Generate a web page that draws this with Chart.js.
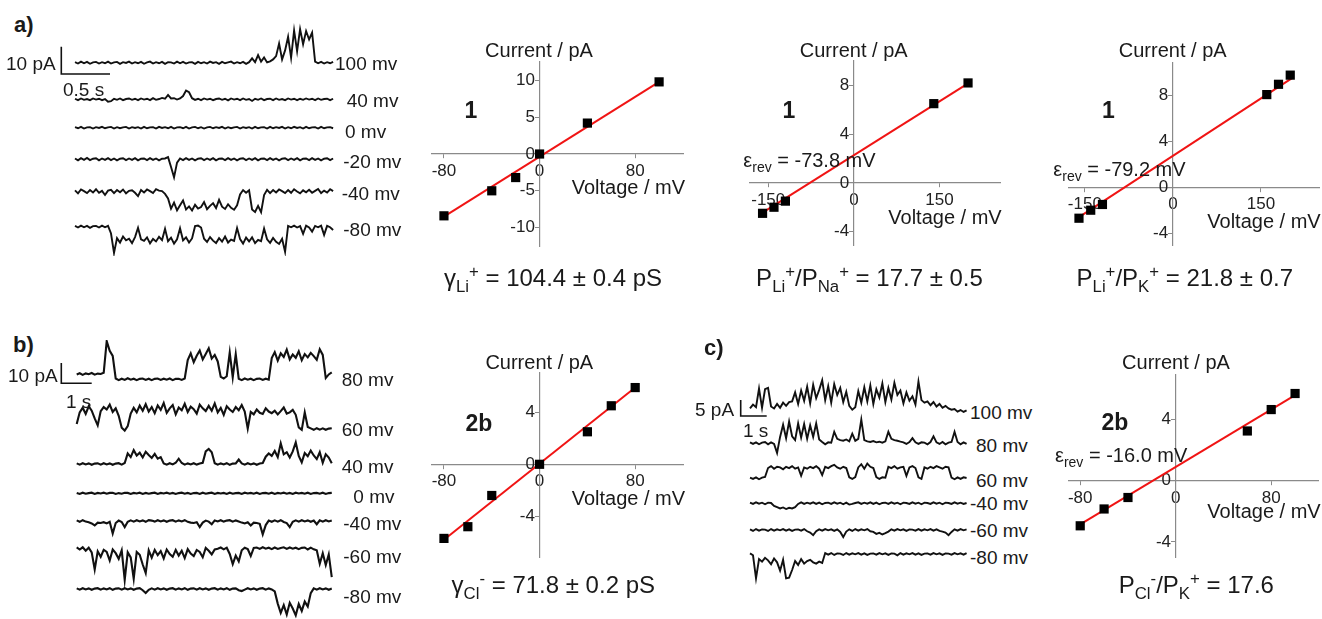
<!DOCTYPE html>
<html>
<head>
<meta charset="utf-8">
<script src="https://cdn.jsdelivr.net/npm/chart.js@4.4.1/dist/chart.umd.min.js"></script>
<style>
  body { margin: 0; background: #fff; }
  #fig { position: relative; width: 1322px; height: 619px; overflow: hidden;
         font-family: Arial, "Liberation Sans", sans-serif; color: #1a1a1a; }
  #fig canvas { position: absolute; }
  .t { position: absolute; white-space: nowrap; line-height: 1; }
  .t sub, .t sup { font-size: 0.7em; line-height: 0; }
</style>
</head>
<body>
<div id="fig"></div>
<script>
// ---------- panel a : single channel traces (pA relative to closed level) ----------
const voltsA = ['100 mv', '40 mv', '0 mv', '-20 mv', '-40 mv', '-80 mv'];
const traceA100 = [0.2,-0.3,0.4,-0.2,0.3,-0.4,0.1,0.3,-0.3,0.2,-0.2,0.4,-0.3,0.1,0.3,-0.4,0.2,-0.1,0.4,-0.3,
  0.2,-0.2,0.3,-0.4,0.1,0.4,-0.3,0.2,-0.2,0.3,-0.4,0.2,0.1,-0.3,0.4,-0.2,0.3,-0.3,0.1,0.2,
  -0.4,0.3,-0.2,0.2,-0.3,0.4,-0.1,0.2,-0.4,0.3,-0.2,0.1,0.4,-0.3,0.2,-0.2,0.3,-0.4,0.2,
  1.6,0.2,2.8,0.4,1.9,0.1,0.5,1.2,2.4,7.0,1.2,4.5,9.5,1.8,11.8,4.2,12.3,6.8,11.6,8.5,
  11.0,0.4,-0.2,0.3,-0.3,0.2,-0.2,0.3];
const traceA40 = [0.2,-0.3,0.3,-0.2,0.1,-0.3,0.3,-0.1,0.2,-0.3,0.1,-0.9,-0.7,0.2,-0.2,0.3,-0.3,0.1,0.3,-0.2,
  0.2,-0.3,0.3,-0.1,0.2,-0.3,0.4,-0.2,0.1,0.5,0.2,1.6,0.3,0.4,-0.1,0.3,1.2,3.2,2.6,0.4,
  -0.2,0.2,-0.3,0.3,-0.1,0.2,-0.3,0.1,0.3,-0.2,0.2,-0.4,0.3,-0.1,0.2,-0.3,0.3,-0.2,0.1,-0.6,
  0.2,-0.2,0.3,-0.3,0.1,0.2,-0.3,0.3,-0.2,0.1,-0.3,0.3,-0.1,0.2,-0.3,0.2,-0.2,0.3,-0.1,0.2,
  -0.3,0.3,-0.2,0.1,0.2,-0.3,0.2];
const traceA0 = [0.2,-0.2,0.3,-0.3,0.1,0.2,-0.3,0.2,-0.1,0.3,-0.2,0.1,0.3,-0.3,0.2,-0.2,0.1,0.3,-0.3,0.2,
  -0.1,0.2,-0.3,0.3,-0.2,0.1,0.2,-0.3,0.3,-0.1,0.2,-0.2,0.3,-0.3,0.1,0.2,-0.2,0.3,-0.3,0.1,
  0.3,-0.2,0.2,-0.3,0.1,0.3,-0.2,0.2,-0.1,0.3,-0.3,0.2,-0.2,0.1,0.3,-0.3,0.2,-0.1,0.2,-0.3,
  0.3,-0.2,0.1,0.2,-0.3,0.3,-0.2,0.2,-0.1,0.3,-0.3,0.2,-0.2,0.3,-0.1,0.2,-0.3,0.3,-0.2,0.1,
  0.2,-0.3,0.3,-0.2,0.1,0.2,-0.2];
const traceAm20 = [0.3,-0.4,0.4,-0.2,0.5,-0.3,0.2,0.4,-0.4,0.3,-0.2,0.4,-0.3,0.3,-0.4,0.2,0.4,-0.3,0.3,-0.2,
  0.4,-0.4,0.2,0.3,-0.3,0.4,-0.2,0.3,-0.4,0.2,0.3,0.8,-2.8,-6.6,-1.2,0.3,-0.3,0.4,-0.2,0.3,
  -0.4,0.2,0.4,-0.3,0.3,-0.2,0.4,-0.4,0.2,0.3,-0.3,0.4,-0.2,0.3,-0.4,0.2,0.4,-0.3,0.3,-0.2,
  0.4,-0.4,0.2,0.3,-0.3,0.4,-0.2,0.3,-0.4,0.2,0.4,-0.3,0.3,-0.2,0.4,-0.4,0.2,0.3,-0.3,0.4,
  -0.2,0.3,-0.4,0.2,0.4,-0.3,0.3];
const traceAm40 = [0.5,-0.6,0.8,0.2,-0.5,0.6,-0.3,0.9,-0.4,0.3,-1.2,0.4,0.7,-0.5,0.6,-0.2,0.8,-0.6,0.3,0.5,
  -0.4,-1.6,0.6,-0.3,0.8,0.2,-0.5,0.9,0.4,0.2,-0.8,-2.5,-6.2,-4.0,-6.8,-5.0,-3.2,-6.5,-5.4,-6.9,
  -4.8,-6.2,-5.6,-3.8,-6.4,-5.2,-4.2,-6.0,-3.0,-5.5,-6.3,-4.6,-5.9,-6.6,-5.0,-1.0,0.6,-0.4,0.5,-6.5,
  -7.4,-5.2,-7.5,-1.2,0.7,-0.5,0.6,-0.3,0.8,0.2,-0.5,0.6,-0.4,0.9,0.1,-0.6,0.5,-0.2,0.7,-0.4,
  0.3,1.0,-0.5,0.4,-0.3,0.9,0.2];
const traceAm80 = [0.3,-0.3,0.4,-0.2,0.3,-0.4,0.2,0.3,-0.3,0.4,-0.2,0.3,-2.5,-9.6,-4.2,-5.8,-3.6,-5.0,-4.4,-6.0,
  -3.8,-0.4,-4.6,-5.2,-3.9,-6.1,-4.5,-5.4,-3.7,-4.9,-0.8,-5.3,-4.0,-6.2,-4.6,-0.6,-5.0,-3.9,-5.8,-4.3,
  0.2,0.4,-0.3,-4.4,-5.6,-3.8,-5.1,-6.0,-4.2,-5.5,-3.6,-5.8,-4.7,-5.2,-0.5,-4.5,-6.2,-4.0,-5.4,-3.9,
  -6.0,-4.8,-5.3,-0.7,-4.6,-5.9,-4.1,-5.5,-6.3,-4.4,-9.2,0.3,-0.2,0.4,-0.3,0.2,-2.6,0.4,-0.3,-1.8,
  0.3,-0.2,0.4,-3.0,0.3,-0.2,-1.2];

// ---------- panel b traces ----------
const voltsB = ['80 mv', '60 mv', '40 mv', '0 mv', '-40 mv', '-60 mv', '-80 mv'];
const traceB80 = [2.4,3.0,2.2,2.9,2.5,3.1,2.3,2.8,2.6,3.2, 18.8,14.0,11.5,
  0.4,-0.4,0.3,-0.3,0.5,-0.2,0.3,-0.4,0.2,0.4,-0.3,0.3,-0.4,0.2,0.4,-0.3,0.3,-0.2,0.4,-0.4,0.2,0.3,-0.3,0.4,
  9.5,12.8,8.4,11.6,14.2,9.8,12.5,15.3,10.2,12.0,8.8, 1.2,0.4,1.5,13.2,1.0,12.4,
  0.3,-0.4,0.4,-0.2,0.3,-0.4,0.2,0.4,-0.3,0.3,-0.2,
  10.5,13.4,9.2,12.8,11.0,14.6,9.8,12.2,10.6,13.8,9.4,12.4,10.8,13.0,11.4,9.6,14.8,12.0, 0.6,2.4,3.4];
const traceB60 = [2.5, 8.2,10.5,7.4,11.2,9.0,5.2,1.8,8.8,10.8,9.6,12.0,8.4,10.2,6.5, 0.6,-0.8,1.4,
  7.6,10.4,8.2,11.5,9.0,12.2,8.6,10.8,7.8,11.6,9.4,12.8,8.0,10.2,11.8,7.2,10.6,9.2,12.4,8.4,11.0,9.8,
  7.6,12.0,10.2,8.8,11.4,9.0,12.6,8.2,10.4,7.0,11.2,9.6,8.4,10.8,9.2,11.8,8.6, 0.2,
  8.4,7.2,9.6,8.0,7.4,10.2,8.6,7.8,9.0,7.2,8.8,10.6,7.6,8.2,9.4,7.0, 0.8,-0.4, 8.2,
  1.0,0.3,-0.4,0.4,-0.3,0.3,-0.4,0.2,0.4];
const traceB40 = [0.3,-0.3,0.4,-0.2,0.3,-0.4,0.2,0.3,-0.3,0.4,-0.2,0.3,-0.4,0.2,0.4,-0.3,0.5,
  5.2,3.4,6.8,4.2,5.6,3.2,6.0,4.4,3.0,5.0,2.6,3.4, 0.3,-0.3,0.4,-0.2,0.6, 2.6,0.5,
  -0.3,0.3,-0.2,0.4,-0.3,0.2,0.6, 6.2,7.4,5.8,
  0.4,-0.3,0.3,-0.2,0.4,-0.4,0.2,0.3,2.2,0.3,-0.3,0.4,-0.2,0.3,-0.4,0.2,0.5,
  3.6,5.2,4.0,6.4,3.4,10.2,4.8,5.8,3.2,6.2,10.6,4.0,0.8,5.4,3.8,6.6,4.2,2.4,5.8,0.6,4.8,3.2, 0.4];
const traceB0 = [0.2,-0.3,0.3,-0.2,0.1,0.3,-0.3,0.2,-0.1,0.3,-0.2,0.2,0.3,-0.3,0.1,-0.2,0.3,0.2,-0.3,0.2,
  -0.1,0.3,-0.3,0.2,-0.2,0.1,0.3,-0.3,0.2,-0.1,0.3,-0.2,0.2,-0.3,0.1,0.3,-0.2,0.2,-0.3,0.1,
  0.2,-0.3,0.3,-0.2,0.1,0.3,-0.3,0.2,-0.1,0.2,-0.3,0.3,-0.2,0.1,0.2,-0.3,0.3,-0.1,0.2,-0.2,
  0.3,-0.3,0.1,0.2,-0.2,0.3,-0.3,0.2,-0.1,0.3,-0.2,0.2,-0.3,0.3,-0.1,0.2,-0.2,0.3,-0.3,0.1,
  0.2,-0.2,0.3,-0.3,0.1,0.2];
const traceBm40 = [0.3,-0.4,0.4,-0.3,-0.6,-1.2,-2.2,-0.8,-1.0,-0.6,-1.2,-0.4,-6.2,-1.0,0.2,-0.5,-3.0,-0.4,0.3,-0.3,
  0.4,-0.2,0.3,-0.4,0.4,0.2,-0.3,0.4,-0.2,0.3,-0.4,0.2,0.4,-0.3,0.3,-0.2,0.4,-0.4,-0.8,-1.0,
  -0.6,-3.0,-0.8,0.2,-0.3,-1.6,0.3,-0.2,0.4,-0.3,0.2,0.4,-0.3,0.3,-0.2,-0.8,-1.2,-0.6,-2.2,-0.8,
  -1.0,-1.4,-6.6,-2.0,0.2,-0.4,0.3,-0.3,0.4,-0.5,-1.0,-3.0,-0.4,0.3,-0.3,0.4,-0.2,0.3,-0.4,0.2,
  -1.6,0.3,-0.3,0.4,-0.2,0.3];
const traceBm60 = [0.4,-0.6,0.5,-1.2,0.3,-2.0,-10.4,-1.5,-4.2,-0.8,-1.8,-6.0,-0.6,-2.4,-5.2,-1.0,-15.6,-2.0,-4.5,-15.0,
  -1.8,-3.2,-8.0,-12.2,-1.0,-4.6,-0.8,-3.4,-1.4,-5.0,-0.6,-2.8,-4.2,-0.8,-3.6,-1.2,-4.8,-0.4,-2.6,-3.8,
  -0.8,-1.8,-4.4,0.2,-1.2,-3.0,-0.6,-0.2,0.4,-0.5,0.3,-2.8,-7.8,-3.6,-6.4,-1.0,0.3,-0.4,-3.8,0.2,
  0.4,-0.3,0.5,-0.2,0.3,-0.4,0.4,-0.3,0.2,0.5,-0.3,0.4,-0.2,0.3,-0.4,0.2,0.4,-0.6,0.3,-0.5,
  -1.0,-7.6,-2.4,-8.2,-3.0,-14.2];
const traceBm80 = [0.3,-0.3,0.4,-0.2,0.3,-0.4,0.2,0.4,-0.3,0.3,-0.2,0.4,-0.4,0.2,0.3,-0.3,0.4,-0.2,0.3,-0.4,
  0.2,0.4,-0.6,-2.0,-0.4,0.3,-0.3,0.4,-0.2,0.3,-0.4,0.2,0.4,-0.3,0.3,-0.2,0.4,-0.4,0.2,0.3,
  -0.3,0.4,-0.2,0.3,-0.4,0.2,0.4,-0.3,0.3,-0.2,0.4,-0.4,0.2,0.3,-0.6,-1.0,-0.3,0.4,-0.2,0.3,
  -0.4,0.2,0.4,-0.3,0.3,-0.2,-1.2,-7.2,-11.8,-8.0,-12.6,-6.8,-9.6,-13.0,-7.4,-10.8,-6.2,-8.6,-2.0,0.3,
  -0.3,0.4,-0.2,0.3,-0.4,0.2];

// ---------- panel c traces ----------
const voltsC = ['100 mv', '80 mv', '60 mv', '-40 mv', '-60 mv', '-80 mv'];
const traceC100 = [0.8,2.0,1.2,7.0,1.0,6.8,7.2, 1.4,0.8,2.2,1.0,2.6,1.6,2.8,
  3.0,5.8,2.2,6.4,3.2,7.6,2.4,8.2,4.0,6.6,9.6,3.4,7.8,2.6,8.4,5.0,7.2,2.8,6.0,1.6, 0.4,1.2,
  6.2,2.6,7.4,3.0,8.0,2.2,6.8,4.2,8.6,2.8,7.2,3.6,8.8,5.0,6.4,2.4,5.8,3.2,4.6,2.0, 9.2,
  3.4,2.6,3.0,1.8,2.8,1.4,2.2,1.0,1.6,0.8, 0.4,0.6,-0.2,0.3,-0.3,0.2];
const traceC80 = [0.3,-0.2,0.3,-0.3,0.2,0.4,-0.3,0.3,-0.2, -3.0,
  2.0,5.8,1.6,6.8,2.2,1.0,6.2,1.8,6.0,1.4,5.6,2.0,6.2,1.2, 0.4,-0.3,0.3,0.2, 3.6,
  1.4,1.0,0.8,1.2,0.6, 3.0,0.8,1.4, 7.4, 1.0,0.6,0.4,0.7,0.3,0.5,0.2,0.6, 3.6,
  1.4,1.0,0.8,0.5,0.3,-0.2,0.4, 1.6, 0.3,-0.2,0.3,0.2,-0.3,0.4, 2.2,
  0.3,-0.2,0.4,-0.3,0.2,0.4,3.6, 0.4,-0.3,0.3,-0.2];
const traceC60 = [0.2,-0.2,0.3,-0.3,0.2,0.4, 3.2,3.8,3.0,3.6,3.4,2.8,3.6,3.2,3.8,3.0,3.4, 0.8,
  3.4,3.0,3.6,3.2,3.8,3.0, 1.0, 3.6,3.2,3.8,4.2,3.4,3.0,3.6,3.2, 0.3,-0.2,0.4,
  3.4,4.4,3.0,4.6,3.6,3.2, 0.4,-0.2,0.3,0.2, 3.6,3.2,3.8,3.0,3.4,3.6, 0.8, 3.4,3.8,3.2, 0.3,-0.2,
  3.4,3.0,3.6,3.2,3.8,3.4,3.0,3.6,3.4, 0.2,-0.3,0.3,-0.2,0.3,0.1];
const traceCm40 = [0.2,-0.2,0.3,-0.1,0.2,-0.3,0.2,0.1,-0.8,-1.2,-1.6,-1.3,-1.8,-1.4,-1.6,-1.2,-0.2,0.3,-0.2,0.2,
  -0.1,0.3,-0.2,0.2,-0.3,0.1,0.2,-0.2,0.3,-0.1,0.2,-0.3,0.2,-0.4,-0.2,0.1,0.3,-0.2,0.2,-0.1,
  0.3,-0.2,0.2,-0.3,0.1,0.2,-0.2,0.3,-0.1,0.2,-0.3,0.2,0.1,-0.2,0.3,-0.1,0.2,-0.3,0.2,0.1,
  -0.2,0.3,-0.1,0.2,-0.3,0.2,0.1,-0.2,0.3,-0.1,0.2,-0.2,0.1];
const traceCm60 = [0.2,-0.3,0.3,-0.2,0.2,0.1,-0.3,0.3,-0.2,0.2,-0.1,0.3,-0.2,0.2,-0.3,0.1,0.2,-0.2,0.3,-0.4,
  -0.8,-1.6,-0.4,0.2,-0.2,0.3,-0.1,0.2,-0.3,0.2,-0.6,-2.2,-0.5,0.2,-0.3,0.3,-0.2,0.2,-0.1,0.3,
  -0.4,-0.6,-1.2,-0.9,-1.4,-1.0,-0.5,0.2,-0.2,0.3,-0.1,0.2,-0.3,0.2,0.1,-0.2,0.3,-0.2,0.2,-0.1,
  0.3,-0.2,0.2,-0.3,-0.5,-0.8,-1.6,-0.6,0.2,-0.2,0.3,-0.1,0.2];
const traceCm80 = [0.2,-0.4,-7.6,-1.6,-2.4,-1.2,-2.0,-3.2,-1.4,-2.6,-5.2,-1.8,-7.6,-7.4,-5.0,-2.2,-3.4,-1.6,-3.0,-2.2,
  -1.8,-2.6,-3.0,-2.4,-2.8,
  0.3,-0.2,0.3,-0.3,0.2,0.1,-0.3,0.3,-0.2,0.2,-0.1,0.3,-0.2,0.2,-0.3,0.1,0.2,-0.2,0.3,-0.1,
  0.2,-0.3,0.2,0.1,-0.4,0.3,-0.2,0.2,-0.1,0.3,-0.2,0.2,-0.3,0.1,0.2,-0.2,0.3,-0.1,0.2,-0.3,
  0.2,0.1,-0.2,0.3,-0.1,0.2,-0.2,0.3];

// ---------- I-V plots: voltage (mV), current (pA), linear fit ends ----------
const ivA1V = [-80, -40, -20, 0, 40, 100];
const ivA1I = [-8.4, -5.0, -3.2, 0, 4.2, 9.8];
const fitA1V = [-80, 100];
const fitA1I = [-8.5, 9.8];
const ivA2V = [-160, -140, -120, 140, 200];
const ivA2I = [-2.5, -2.0, -1.5, 6.5, 8.2];
const fitA2V = [-160, 205];
const fitA2I = [-2.45, 8.3];
const ivA3V = [-160, -140, -120, 160, 180, 200];
const ivA3I = [-2.7, -2.0, -1.5, 8.1, 9.0, 9.8];
const fitA3V = [-160, 205];
const fitA3I = [-2.6, 9.6];
const ivBV = [-80, -60, -40, 0, 40, 60, 80];
const ivBI = [-5.7, -4.8, -2.4, 0, 2.5, 4.5, 5.9];
const fitBV = [-80, 80];
const fitBI = [-5.8, 5.9];
const ivCV = [-80, -60, -40, 60, 80, 100];
const ivCI = [-2.95, -1.85, -1.1, 3.25, 4.65, 5.7];
const fitCV = [-80, 99];
const fitCI = [-2.85, 5.55];

// tick labels
const ticksX80 = [-80, 0, 80];
const ticksX150 = [-150, 0, 150];
const ticksYA1 = [-10, -5, 0, 5, 10];
const ticksY4 = [-4, 0, 4, 8];
const ticksYB = [-4, 0, 4];

// ---------- helpers ----------
const fig = document.getElementById('fig');

function addCanvas(left, top, w, h) {
  const c = document.createElement('canvas');
  c.width = w; c.height = h;
  c.style.left = left + 'px'; c.style.top = top + 'px';
  c.style.width = w + 'px'; c.style.height = h + 'px';
  fig.appendChild(c);
  return c;
}

function addText(html, x, y, size, opt) {
  opt = opt || {};
  const d = document.createElement('div');
  d.className = 't';
  d.innerHTML = html;
  d.style.left = x + 'px';
  d.style.top = y + 'px';
  d.style.fontSize = size + 'px';
  if (opt.bold) d.style.fontWeight = 'bold';
  d.style.transform = 'translate(' + (opt.center ? '-50%' : '0') + ',-50%)';
  fig.appendChild(d);
}

const baseOpts = {
  responsive: false,
  animation: false,
  events: [],
  plugins: { legend: { display: false }, tooltip: { enabled: false } }
};

// L: panel box + time/current scale, rows: pixel y of each closed level, bar: scale bar
function traceChart(L, traces, rows, bar) {
  const c = addCanvas(L.left, L.top, L.width, L.height);
  const bottom = L.top + L.height;
  const datasets = traces.map((vals, k) => {
    const off = (bottom - rows[k]) / L.pxPerPA;
    const dt = L.dur / (vals.length - 1);
    return {
      data: vals.map((v, i) => ({ x: i * dt, y: off + v })),
      showLine: true, borderColor: '#111', borderWidth: L.lw, pointRadius: 0
    };
  });
  const bx = (bar.x - L.t0) / L.pxPerS;
  const by = (bottom - bar.y) / L.pxPerPA;
  datasets.push({
    data: [{ x: bx, y: by + bar.pA }, { x: bx, y: by }, { x: bx + bar.s, y: by }],
    showLine: true, borderColor: '#111', borderWidth: 1.6, pointRadius: 0
  });
  new Chart(c, {
    type: 'scatter',
    data: { datasets },
    options: {
      ...baseOpts,
      layout: { padding: 0 },
      elements: { line: { tension: 0 } },
      scales: {
        x: { type: 'linear', display: false,
             min: (L.left - L.t0) / L.pxPerS, max: (L.left + L.width - L.t0) / L.pxPerS },
        y: { type: 'linear', display: false, min: 0, max: L.height / L.pxPerPA }
      }
    }
  });
}

function ivChart(area, xr, yr, V, I, fV, fI, xt, yt) {
  const pad = 30;
  const c = addCanvas(area.l - pad, area.t - pad, area.r - area.l + 2 * pad, area.b - area.t + 2 * pad);
  const setTicks = vals => scale => { scale.ticks = vals.map(v => ({ value: v })); };
  const axis = () => ({
    grid: { display: true, drawOnChartArea: false, drawTicks: true, tickLength: 4, color: '#8a8a8a' },
    border: { display: true, color: '#8a8a8a', width: 1.2 },
    ticks: { color: '#222', font: { family: 'Arial', size: 17 }, padding: 3, autoSkip: false, maxRotation: 0 }
  });
  const xa = axis(), ya = axis();
  ya.ticks.callback = v => v + ' ';
  new Chart(c, {
    type: 'scatter',
    data: {
      datasets: [
        { data: V.map((v, i) => ({ x: v, y: I[i] })), pointStyle: 'rect', pointRadius: 6.5,
          backgroundColor: '#000', borderWidth: 0, clip: false },
        { data: fV.map((v, i) => ({ x: v, y: fI[i] })), showLine: true, pointRadius: 0,
          borderColor: '#f01414', borderWidth: 2, clip: false }
      ]
    },
    options: {
      ...baseOpts,
      layout: { padding: pad },
      scales: {
        x: { ...xa, type: 'linear', position: { y: 0 }, min: xr[0], max: xr[1], afterBuildTicks: setTicks(xt) },
        y: { ...ya, type: 'linear', position: { x: 0 }, min: yr[0], max: yr[1], afterBuildTicks: setTicks(yt) }
      }
    }
  });
}

// ---------- traces ----------
traceChart({ left: 55, top: 20, width: 285, height: 236, t0: 75, pxPerS: 97.4, pxPerPA: 2.73, dur: 2.65, lw: 1.9 },
  [traceA100, traceA40, traceA0, traceAm20, traceAm40, traceAm80],
  [62.7, 99.3, 127.7, 159.3, 191.7, 226.7],
  { x: 61.3, y: 74, pA: 10, s: 0.5 });

traceChart({ left: 55, top: 340, width: 285, height: 279, t0: 76.7, pxPerS: 30.4, pxPerPA: 2.03, dur: 8.39, lw: 2.1 },
  [traceB80, traceB60, traceB40, traceB0, traceBm40, traceBm60, traceBm80],
  [379.3, 429, 464, 493.3, 521, 548.3, 589],
  { x: 61.3, y: 383.3, pA: 10, s: 1 });

traceChart({ left: 730, top: 370, width: 240, height: 220, t0: 750, pxPerS: 26, pxPerPA: 3.2, dur: 8.33, lw: 1.9 },
  [traceC100, traceC80, traceC60, traceCm40, traceCm60, traceCm80],
  [411, 443.3, 478.3, 503.3, 530, 554],
  { x: 740.7, y: 416, pA: 5, s: 1 });

// ---------- I-V plots ----------
ivChart({ l: 432, t: 62, r: 683, b: 246 }, [-90, 120], [-12.5, 12.5], ivA1V, ivA1I, fitA1V, fitA1I, ticksX80, ticksYA1);
ivChart({ l: 750, t: 61, r: 1000, b: 245 }, [-182, 256], [-5.1, 10], ivA2V, ivA2I, fitA2V, fitA2I, ticksX150, ticksY4);
ivChart({ l: 1069, t: 63, r: 1319, b: 245 }, [-177, 249], [-5.04, 10.86], ivA3V, ivA3I, fitA3V, fitA3I, ticksX150, ticksY4);
ivChart({ l: 432, t: 373, r: 683, b: 557 }, [-90, 120], [-7.13, 7.02], ivBV, ivBI, fitBV, fitBI, ticksX80, ticksYB);
ivChart({ l: 1069, t: 375, r: 1318, b: 557 }, [-89.4, 119.2], [-4.99, 6.91], ivCV, ivCI, fitCV, fitCI, ticksX80, ticksYB);

// ---------- text ----------
addText('a)', 14, 25, 22, { bold: true });
addText('b)', 13, 345, 22, { bold: true });
addText('c)', 704, 348, 22, { bold: true });

addText('10 pA', 6, 63, 19);
addText('0.5 s', 63, 89, 19);
addText('10 pA', 8, 375, 19);
addText('1 s', 66, 401, 19);
addText('5 pA', 695, 409, 19);
addText('1 s', 743, 430, 19);

const labXA = [335, 346.7, 345, 343.3, 341.7, 343.3], labYA = [63.3, 100, 130.7, 160.7, 193.3, 229.3];
const labXB = [341.7, 341.7, 341.7, 353.3, 343.3, 343.3, 343.3], labYB = [379.3, 429, 466, 495.7, 523.3, 556, 595.7];
const labXC = [970, 976, 976, 970, 970, 970], labYC = [412, 445, 480, 503, 530, 557];
voltsA.forEach((s, i) => addText(s, labXA[i], labYA[i], 19));
voltsB.forEach((s, i) => addText(s, labXB[i], labYB[i], 19));
voltsC.forEach((s, i) => addText(s, labXC[i], labYC[i], 19));

// I-V annotations
addText('Current / pA', 539, 50, 20, { center: true });
addText('Voltage / mV', 571.7, 187, 20);
addText('1', 471, 110, 23, { bold: true, center: true });
addText('γ<sub>Li</sub><sup>+</sup> = 104.4 ± 0.4 pS', 553, 278, 24, { center: true });

addText('Current / pA', 853.7, 50, 20, { center: true });
addText('Voltage / mV', 888.3, 216.7, 20);
addText('1', 789, 110, 23, { bold: true, center: true });
addText('ε<sub>rev</sub> = -73.8 mV', 743.3, 160, 20);
addText('P<sub>Li</sub><sup>+</sup>/P<sub>Na</sub><sup>+</sup> = 17.7 ± 0.5', 869.5, 278, 24, { center: true });

addText('Current / pA', 1172.7, 50, 20, { center: true });
addText('Voltage / mV', 1207.3, 221, 20);
addText('1', 1108.3, 110, 23, { bold: true, center: true });
addText('ε<sub>rev</sub> = -79.2 mV', 1053.3, 168.5, 20);
addText('P<sub>Li</sub><sup>+</sup>/P<sub>K</sub><sup>+</sup> = 21.8 ± 0.7', 1184.8, 278, 24, { center: true });

addText('Current / pA', 539.3, 361.7, 20, { center: true });
addText('Voltage / mV', 571.7, 497.7, 20);
addText('2b', 479, 422.7, 23, { bold: true, center: true });
addText('γ<sub>Cl</sub><sup>-</sup> = 71.8 ± 0.2 pS', 553.3, 585, 24, { center: true });

addText('Current / pA', 1176, 361.7, 20, { center: true });
addText('Voltage / mV', 1207.3, 511, 20);
addText('2b', 1115, 421.7, 23, { bold: true, center: true });
addText('ε<sub>rev</sub> = -16.0 mV', 1055, 455, 20);
addText('P<sub>Cl</sub><sup>-</sup>/P<sub>K</sub><sup>+</sup> = 17.6', 1196.3, 585, 24, { center: true });
</script>
</body>
</html>
